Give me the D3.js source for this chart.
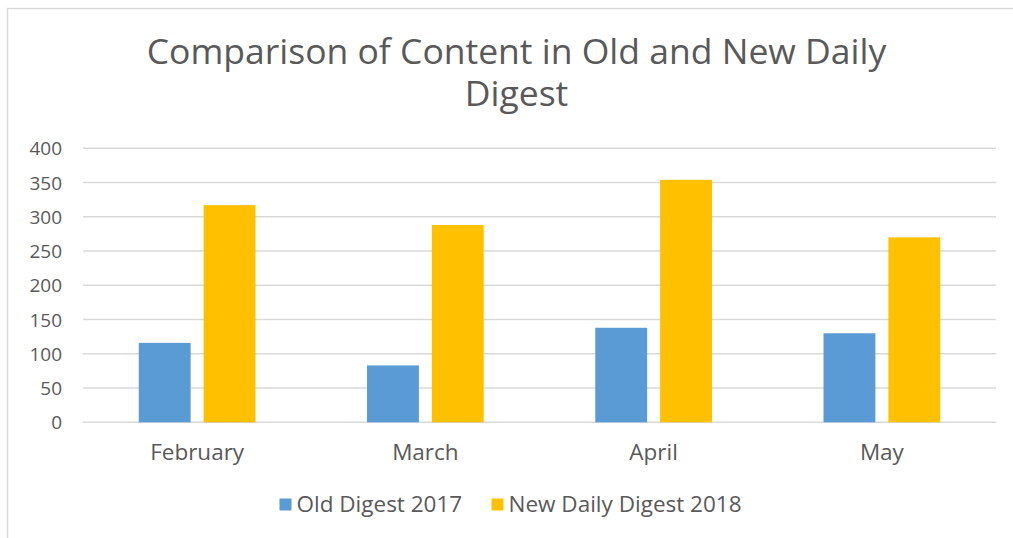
<!DOCTYPE html>
<html><head><meta charset="utf-8">
<script src="https://cdn.jsdelivr.net/npm/d3@7"></script>
<style>body{margin:0;background:#fff;} svg{display:block;}</style>
</head><body>
<script>
const months = ["February", "March", "April", "May"];
const oldDigest2017 = [116, 83, 138, 130];
const newDigest2018 = [317, 288, 354, 270];
const seriesNames = ["Old Digest 2017", "New Daily Digest 2018"];
const seriesColors = ["#5B9BD5", "#FFC000"];
const yTicks = [0, 50, 100, 150, 200, 250, 300, 350, 400];

const W = 1013, H = 538;
const font = "'Open Sans', 'Liberation Sans', sans-serif";
const txt = "#595959";
const svg = d3.select("body").append("svg").attr("width", W).attr("height", H);
svg.append("rect").attr("width", W).attr("height", H).attr("fill", "#fff");
// outer frame
svg.append("rect").attr("x", 7.5).attr("y", 8.5).attr("width", W + 20).attr("height", H + 20)
  .attr("fill", "none").attr("stroke", "#d9d9d9").attr("stroke-width", 1.5);

const m = {left: 83, right: 996, top: 148.3, bottom: 422.3};
const x = d3.scaleBand().domain(months).range([m.left, m.right]);
const y = d3.scaleLinear().domain([0, 400]).range([m.bottom, m.top]);
const x1 = d3.scaleBand().domain(seriesNames).range([0, x.bandwidth()]).paddingInner(0.2).paddingOuter(0.86);

// title
const title = svg.append("text").attr("text-anchor", "middle").attr("fill", txt)
  .style("font-family", font).style("font-size", "35.5px");
title.append("tspan").attr("x", 516.5).attr("y", 64).text("Comparison of Content in Old and New Daily");
title.append("tspan").attr("x", 516.5).attr("y", 106).text("Digest");

// grid
const grid = svg.append("g");
grid.selectAll("line").data(yTicks).join("line")
  .attr("x1", m.left).attr("x2", m.right)
  .attr("y1", d => y(d)).attr("y2", d => y(d))
  .attr("stroke", "#d9d9d9").attr("stroke-width", 1.5);

// y axis labels
const yAxis = svg.append("g").attr("transform", `translate(${m.left},0)`)
  .call(d3.axisLeft(y).tickValues(yTicks).tickSize(0).tickPadding(21));
yAxis.select(".domain").remove();
yAxis.selectAll("text").attr("fill", txt).style("font-family", font).style("font-size", "19px").attr("dy", "0.35em");

// x axis labels
const xAxis = svg.append("g").attr("transform", `translate(0,${m.bottom})`)
  .call(d3.axisBottom(x).tickSize(0).tickPadding(0));
xAxis.select(".domain").remove();
xAxis.selectAll("text").attr("fill", txt).style("font-family", font).style("font-size", "22.5px")
  .attr("y", 38).attr("dy", null);

// bars
const data = months.map((mo, i) => ({month: mo, values: [oldDigest2017[i], newDigest2018[i]]}));
const groups = svg.append("g").selectAll("g").data(data).join("g")
  .attr("transform", d => `translate(${x(d.month)},0)`);
groups.selectAll("rect").data(d => d.values.map((v, j) => ({name: seriesNames[j], v, c: seriesColors[j]})))
  .join("rect")
  .attr("x", d => x1(d.name)).attr("width", x1.bandwidth())
  .attr("y", d => y(d.v)).attr("height", d => y(0) - y(d.v))
  .attr("fill", d => d.c);

// legend
const legendX = [279.5, 491.5];
const lg = svg.append("g").selectAll("g").data(seriesNames).join("g")
  .attr("transform", (d, i) => `translate(${legendX[i]},0)`);
lg.append("rect").attr("x", 0).attr("y", 498.5).attr("width", 12).attr("height", 12)
  .attr("fill", (d, i) => seriesColors[i]);
lg.append("text").attr("x", 17).attr("y", 511.5).attr("fill", txt)
  .style("font-family", font).style("font-size", "22.5px").text(d => d);
</script>
</body></html>
